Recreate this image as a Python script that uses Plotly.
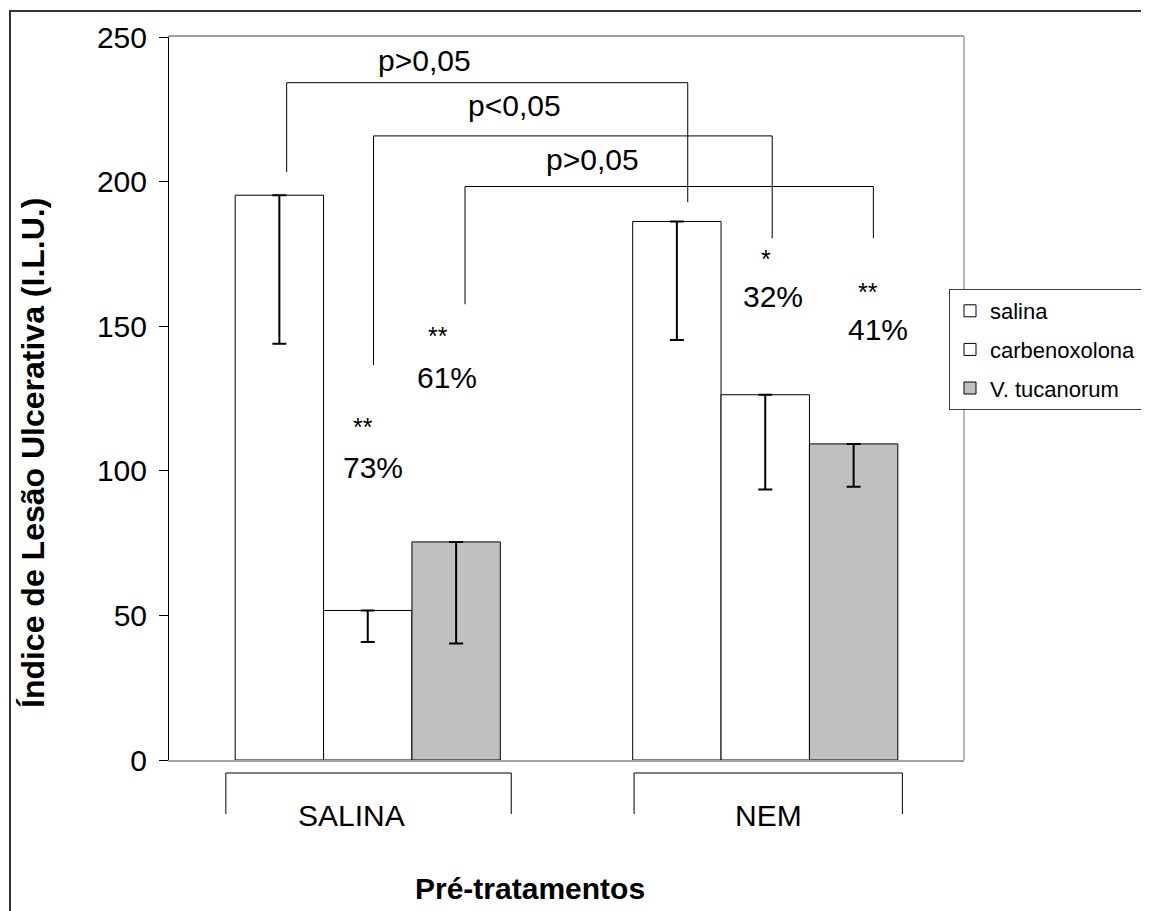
import plotly.graph_objects as go

# ---------------- data ----------------
categories = ["SALINA", "NEM"]
series_names = ["salina", "carbenoxolona", "V. tucanorum"]
salina = [195.3, 186.2]
carbenoxolona = [51.7, 126.3]
v_tucanorum = [75.4, 109.3]
salina_lower = [143.9, 145.2]
carbenoxolona_lower = [40.8, 93.5]
v_tucanorum_lower = [40.3, 94.5]
y_ticks = [0, 50, 100, 150, 200, 250]

p_labels = ["p>0,05", "p<0,05", "p>0,05"]
star_labels = ["**", "**", "*", "**"]
pct_labels = ["73%", "61%", "32%", "41%"]

# ---------------- styling / layout ----------------
OFF = 8                      # page body margin of the html page
W, H = 1200, 903
ML, MT = 161, 29
PW, PH = 795, 723
MR, MB = W - ML - PW, H - MT - PH
FONT = "Arial, Liberation Sans, sans-serif"
fills = ["#ffffff", "#ffffff", "#c0c0c0"]


def px_x(px):
    """screen x (as seen in the window) -> paper x"""
    return (px - OFF - ML) / PW


def px_y(py):
    """screen y -> paper y"""
    return (MT + PH - (py - OFF)) / PH


fig = go.Figure()
values = [salina, carbenoxolona, v_tucanorum]
lowers = [salina_lower, carbenoxolona_lower, v_tucanorum_lower]
for name, vals, lows, fill in zip(series_names, values, lowers, fills):
    fig.add_trace(go.Bar(
        x=categories, y=vals, name=name, legendgroup=name,
        marker=dict(color=fill, line=dict(color="#000000", width=1)),
        error_y=dict(type="data", symmetric=False,
                     array=[0] * len(vals),
                     arrayminus=[v - l for v, l in zip(vals, lows)],
                     color="#000000", thickness=2, width=7),
    ))

shapes = []
# outer frame
shapes.append(dict(type="rect", xref="paper", yref="paper",
                   x0=px_x(10), x1=px_x(1260), y0=px_y(980), y1=px_y(11),
                   line=dict(color="#333333", width=2), layer="below"))
# right plot border (gray)
shapes.append(dict(type="line", xref="paper", yref="paper", x0=1, x1=1, y0=0, y1=1,
                   line=dict(color="#a0a0a0", width=1.5)))

# significance brackets: (x_left, x_right, y_top, y_left_end, y_right_end)
sig_brackets = [
    (-0.204, 0.805, 234.2, 203.3, 192.9),
    (0.0145, 1.0175, 215.8, 136.6, 180.4),
    (0.2447, 1.272, 198.3, 157.6, 180.4),
]
for xl, xr, yt, yl, yr in sig_brackets:
    for (a, b, c, d) in [(xl, yl, xl, yt), (xl, yt, xr, yt), (xr, yt, xr, yr)]:
        shapes.append(dict(type="line", xref="x", yref="y", x0=a, y0=b, x1=c, y1=d,
                           line=dict(color="#000000", width=1)))

# category brackets under the axis
cat_brackets = [(-0.357, 0.361), (-0.33, 0.345)]
for i, (a, b) in enumerate(cat_brackets):
    xa, xb = i + a, i + b
    yt, yb = px_y(773), px_y(814)
    for (x0, y0, x1, y1) in [(xa, yb, xa, yt), (xa, yt, xb, yt), (xb, yt, xb, yb)]:
        shapes.append(dict(type="line", xref="x", yref="paper", x0=x0, y0=y0, x1=x1, y1=y1,
                           line=dict(color="#000000", width=1)))

annotations = []
p_pos = [(0.144, 242.0), (0.368, 226.2), (0.565, 207.5)]
for t, (x, y) in zip(p_labels, p_pos):
    annotations.append(dict(x=x, y=y, xref="x", yref="y", text=t, showarrow=False,
                            xanchor="center", yanchor="middle",
                            font=dict(family=FONT, size=30, color="black")))
star_pos = [(-0.012, 115.0), (0.177, 146.5), (1.003, 173.2), (1.259, 161.8)]
for t, (x, y) in zip(star_labels, star_pos):
    annotations.append(dict(x=x, y=y, xref="x", yref="y", text=t, showarrow=False,
                            xanchor="center", yanchor="middle",
                            font=dict(family=FONT, size=25, color="black")))
pct_pos = [(0.013, 101.0), (0.2, 132.1), (1.020, 160.1), (1.284, 148.7)]
for t, (x, y) in zip(pct_labels, pct_pos):
    annotations.append(dict(x=x, y=y, xref="x", yref="y", text=t, showarrow=False,
                            xanchor="center", yanchor="middle",
                            font=dict(family=FONT, size=30, color="black")))
cat_label_x = [-0.04, 1.009]
for t, x in zip(categories, cat_label_x):
    annotations.append(dict(x=x, y=px_y(815), xref="x", yref="paper", text=t, showarrow=False,
                            xanchor="center", yanchor="middle",
                            font=dict(family=FONT, size=30, color="black")))
# axis titles
annotations.append(dict(x=px_x(530), y=px_y(888), xref="paper", yref="paper",
                        text="<b>Pré-tratamentos</b>", showarrow=False,
                        xanchor="center", yanchor="middle",
                        font=dict(family=FONT, size=30, color="black")))
annotations.append(dict(x=px_x(33), y=px_y(453), xref="paper", yref="paper",
                        text="<b>Índice de Lesão Ulcerativa (I.L.U.)</b>", textangle=-90,
                        showarrow=False, xanchor="center", yanchor="middle",
                        font=dict(family=FONT, size=32, color="black")))

fig.update_layout(
    width=W, height=H,
    margin=dict(l=ML, r=MR, t=MT, b=MB, autoexpand=False),
    paper_bgcolor="white", plot_bgcolor="white",
    barmode="group", bargap=0.333, bargroupgap=0,
    font=dict(family=FONT, color="black"),
    showlegend=True,
    legend=dict(x=px_x(949), y=px_y(289), xanchor="left", yanchor="top",
                bgcolor="white", bordercolor="#404040", borderwidth=1,
                font=dict(family=FONT, size=22, color="black"),
                traceorder="grouped", tracegroupgap=7),
    xaxis=dict(range=[-0.5, 1.5], showticklabels=False, ticks="", showgrid=False,
               zeroline=False, showline=True, linecolor="#a0a0a0", linewidth=1.5,
               mirror=True, layer="below traces"),
    yaxis=dict(range=[0, 250], tickvals=y_ticks, ticks="outside", ticklen=9,
               tickcolor="black", showgrid=False, zeroline=False, showline=True,
               linecolor="black", linewidth=1, layer="below traces",
               ticklabelstandoff=6,
               tickfont=dict(family=FONT, size=30, color="black")),
    shapes=shapes, annotations=annotations,
)

fig.write_html("out.html")
